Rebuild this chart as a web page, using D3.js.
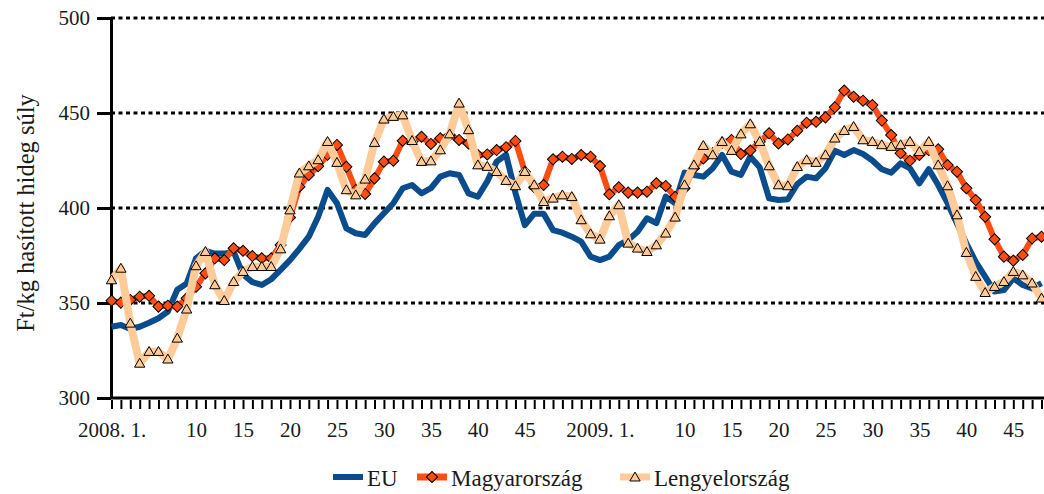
<!DOCTYPE html>
<html>
<head>
<meta charset="utf-8">
<script src="https://d3js.org/d3.v7.min.js"></script>
<style>
  body { margin: 0; background: #fff; }
  svg { display: block; font-family: "Liberation Serif", "DejaVu Serif", serif; }
  .grid line { stroke: #000; stroke-width: 3; stroke-dasharray: 4,3.5; }
  .axis path, .axis line { stroke: #000; }
  .axis text { font-family: "Liberation Serif", "DejaVu Serif", serif; font-size: 21px; fill: #1a1a1a; }
</style>
</head>
<body>
<div id="chart"></div>
<script>

// weekly categories: 2008 weeks 1-52, 2009 weeks 1-48
var categories = [];
[[2008, 52], [2009, 48]].forEach(function(y) {
  for (var w = 1; w <= y[1]; w++) categories.push(y[0] + "-" + w);
});

var tickCats   = ["2008-1","2008-10","2008-15","2008-20","2008-25","2008-30","2008-35","2008-40","2008-45",
                  "2009-1","2009-10","2009-15","2009-20","2009-25","2009-30","2009-35","2009-40","2009-45"];
var tickLabels = ["2008. 1.","10","15","20","25","30","35","40","45",
                  "2009. 1.","10","15","20","25","30","35","40","45"];
var yTicks = [300, 350, 400, 450, 500];

var eu = [337.5,338.4,336.3,337.5,339.6,342,345.5,357,360.3,373.5,377.5,376,376,377,365,361,359.5,362.5,367.4,372.6,
  378.5,384.9,395.4,409.5,402.5,389.3,386.7,385.8,391.9,397.2,402.5,410.4,412.1,407.7,410.4,416.5,418.3,417.4,407.7,405.9,
  414,424.4,428,408,391,397,397,388.4,387,384.9,382.3,374.4,372.6,374.4,380.5,383.2,387.5,394.6,392,406,
  402.5,418.6,417.4,416.5,420.9,427.9,419.1,417.4,427,421.4,405.1,404.2,404.6,412.6,416.5,415.6,420.9,430.2,427.9,430.5,
  428.4,425,420.4,418.6,423.5,420.9,413,420.4,412.1,402.5,391.9,381.4,371.7,363.9,356,356.8,363,359.5,357.7,360.4];

var magyar = [351.2,350.2,351.6,353.3,353.8,348.1,348.6,348.1,352.5,358.6,365.6,373.5,372.6,378.8,377.5,374.7,373.5,373.5,380.5,395,
  411.2,417.4,422,428,433.2,421.7,409.5,407.4,415.6,424.4,424.9,435.4,434.9,437.5,433.7,436.7,438.4,435.8,434,427.9,
  428.2,430.5,432,435.3,419.1,410.9,412.1,425.6,427,425.8,427.9,427,422.1,407.2,410.9,408.1,408.1,408.6,413,411.6,
  405.9,410.4,420.9,426.1,428.8,434.4,435.8,428.4,430.2,434.9,439.3,434,436.1,440.7,444.9,445.4,447.7,453,461.8,458.6,
  456.5,454.2,446,438.4,428.8,424.9,427.9,430.5,430.9,422.6,419.1,410.4,404.2,395.4,383.5,374.4,372.3,375.3,384,384.9];

var lengyel = [362.1,368.2,339.3,318.2,324.4,324.4,320.4,331.4,346.7,369.5,377,359.5,351.2,361.2,366.5,369.1,369.1,369.1,378.4,398.9,
  418.3,422.1,425.3,434.9,423.9,409.5,406.8,415.1,434.4,446.7,448.1,448.9,435.4,424.4,424.7,430.5,438.9,455.1,441.1,422.6,
  421.8,419.1,414.4,411.6,419.1,412.1,403.3,405.1,406.8,405.9,393.7,386.3,383.5,395.8,401.6,381.4,378.8,377,380.5,386.7,
  395.1,412.1,422.6,432.8,427.9,434.9,430.2,438.9,444.2,434.9,422.1,412.1,411.6,421.7,425.3,423.9,427.9,436.7,440.7,442.8,
  435.8,434.9,433.2,432.3,433.2,434.9,429.6,434.9,422.6,411.6,396.3,376.5,363.9,355.4,358.6,361.2,366.5,364.7,360.4,352.5];

var seriesNames = ["EU", "Magyarország", "Lengyelország"];
var colors = ["#0B4C8C", "#FF4D12", "#FFCC99"];

var W = 1044, H = 494;
var x = d3.scalePoint().domain(categories).range([111.5, 1041.5]);
var y = d3.scaleLinear().domain([300, 500]).range([398, 18]);

var svg = d3.select("#chart").append("svg").attr("width", W).attr("height", H);

// gridlines
svg.append("g").attr("class", "grid")
  .selectAll("line").data(yTicks.slice(1)).enter().append("line")
  .attr("x1", 111).attr("x2", W)
  .attr("y1", function(d){ return y(d); }).attr("y2", function(d){ return y(d); });

// x axis
var xAxis = svg.append("g").attr("class", "axis")
  .attr("transform", "translate(0," + y(300) + ")")
  .call(d3.axisBottom(x).tickSize(11).tickSizeOuter(0)
    .tickFormat(function(d){ var k = tickCats.indexOf(d); return k < 0 ? "" : tickLabels[k]; }));
xAxis.select(".domain").attr("stroke-width", 3).attr("d", "M111,0H" + W);
xAxis.selectAll(".tick line").attr("stroke-width", 2).attr("y1", 2);
xAxis.selectAll(".tick text").attr("dy", 0).attr("y", 39);

// y axis
var yAxis = svg.append("g").attr("class", "axis")
  .attr("transform", "translate(111,0)")
  .call(d3.axisLeft(y).tickValues(yTicks).tickSize(14).tickSizeOuter(0).tickPadding(7));
yAxis.select(".domain").attr("stroke-width", 3);
yAxis.selectAll(".tick line").attr("stroke-width", 3);

svg.append("text")
  .attr("transform", "translate(25,213) rotate(-90)")
  .attr("text-anchor", "middle")
  .attr("dy", "0.35em")
  .style("font-size", "24.5px").attr("fill", "#1a1a1a")
  .text("Ft/kg hasított hideg súly");

// lines
var line = d3.line().x(function(d, i){ return x(categories[i]); }).y(function(d){ return y(d); });
var data = [eu, magyar, lengyel];
var widths = [6, 6, 8];

var diamond = d3.symbol().type(d3.symbolSquare).size(62)();
var triangle = d3.symbol().type(d3.symbolTriangle).size(46)();

data.forEach(function(vals, s) {
  var g = svg.append("g");
  g.append("path").datum(vals)
    .attr("d", line).attr("fill", "none")
    .attr("stroke", colors[s]).attr("stroke-width", widths[s])
    .attr("stroke-linejoin", "round");
  if (s === 1) {
    g.selectAll("path.m").data(vals).enter().append("path").attr("class", "m")
      .attr("d", diamond)
      .attr("transform", function(d, i){ return "translate(" + x(categories[i]) + "," + y(d) + ") rotate(45)"; })
      .attr("fill", colors[1]).attr("stroke", "#000").attr("stroke-width", 1);
  }
  if (s === 2) {
    g.selectAll("path.m").data(vals).enter().append("path").attr("class", "m")
      .attr("d", triangle)
      .attr("transform", function(d, i){ return "translate(" + x(categories[i]) + "," + (y(d) + 0.8) + ")"; })
      .attr("fill", colors[2]).attr("stroke", "#000").attr("stroke-width", 1);
  }
});

// legend
var legX = [333, 417, 620];
var leg = svg.append("g");
seriesNames.forEach(function(name, s) {
  var g = leg.append("g").attr("transform", "translate(" + legX[s] + ",477)");
  g.append("line").attr("x1", 0).attr("x2", 30).attr("stroke", colors[s]).attr("stroke-width", s === 0 ? 6 : 7);
  if (s === 1) g.append("path").attr("d", diamond).attr("transform", "translate(15,0) rotate(45)")
      .attr("fill", colors[1]).attr("stroke", "#000");
  if (s === 2) g.append("path").attr("d", triangle).attr("transform", "translate(15,1)")
      .attr("fill", colors[2]).attr("stroke", "#000");
  g.append("text").attr("x", 34).attr("y", 9)
    .style("font-size", "23px").attr("fill", "#1a1a1a").text(name);
});

</script>
</body>
</html>
